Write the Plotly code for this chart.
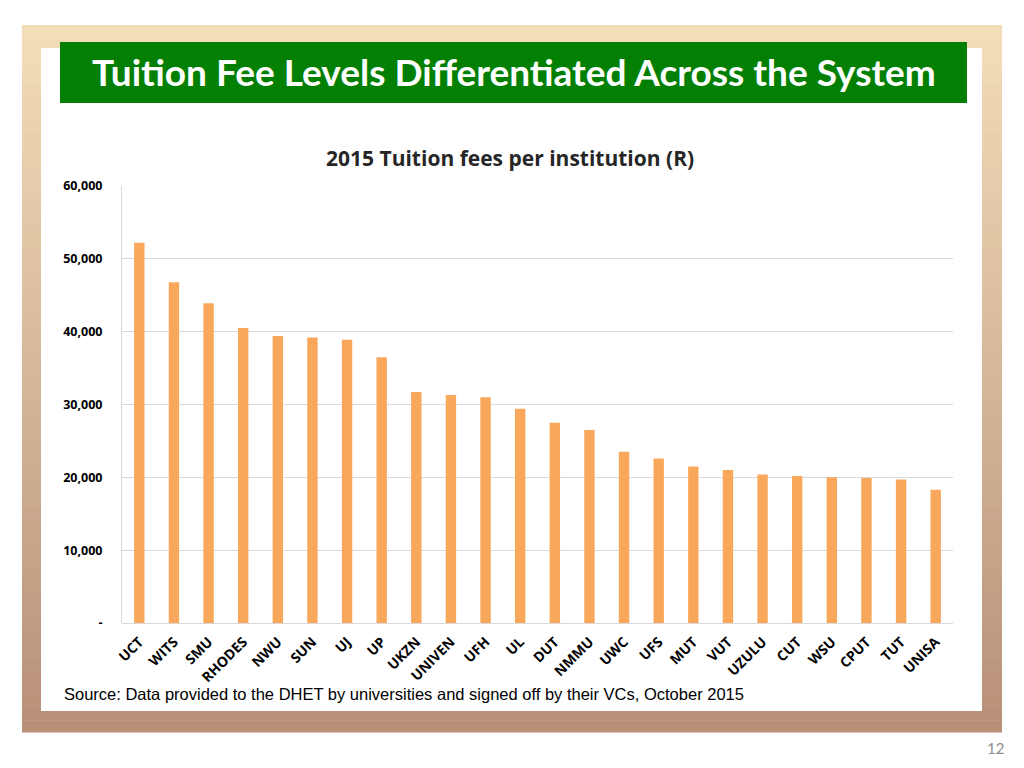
import plotly.graph_objects as go

# 2015 tuition fees per institution (Rand)
institutions = ["UCT", "WITS", "SMU", "RHODES", "NWU", "SUN", "UJ", "UP", "UKZN",
                "UNIVEN", "UFH", "UL", "DUT", "NMMU", "UWC", "UFS", "MUT", "VUT",
                "UZULU", "CUT", "WSU", "CPUT", "TUT", "UNISA"]
fees = [52200, 46800, 43900, 40500, 39400, 39200, 38900, 36500, 31700,
        31300, 31000, 29400, 27500, 26500, 23500, 22600, 21500, 21000,
        20400, 20200, 20000, 19900, 19700, 18300]

y_tickvals = [0, 10000, 20000, 30000, 40000, 50000, 60000]
y_ticktext = ["-", "10,000", "20,000", "30,000", "40,000", "50,000", "60,000"]

W, H = 1024, 768
OFF = 8  # page body margin pushes the figure 8px right/down


def px(x):
    return (x - OFF) / W


def py(y):
    return 1 - (y - OFF) / H


def mix(c1, c2, t):
    return "rgb(%d,%d,%d)" % tuple(round(a + (b - a) * t) for a, b in zip(c1, c2))


shapes = []
# slide frame: tan at top fading to brown at the bottom
top_col, bot_col = (243, 221, 184), (184, 144, 120)
y0, y1, n = 25, 732, 60
step = (y1 - y0) / n
for i in range(n):
    shapes.append(dict(type="rect", xref="paper", yref="paper", layer="below",
                       x0=px(22), x1=px(1002), y0=py(y0 + i * step), y1=py(y0 + (i + 1) * step + 0.6),
                       line=dict(width=0), fillcolor=mix(top_col, bot_col, i / (n - 1))))
# white inner panel
shapes.append(dict(type="rect", xref="paper", yref="paper", layer="below",
                   x0=px(41), x1=px(982), y0=py(48), y1=py(711),
                   line=dict(width=0), fillcolor="white"))
# green title banner
shapes.append(dict(type="rect", xref="paper", yref="paper", layer="below",
                   x0=px(60), x1=px(967), y0=py(42), y1=py(103),
                   line=dict(width=0), fillcolor="#037f03"))

fig = go.Figure(go.Bar(x=institutions, y=fees, marker_color="#f9a75b",
                       marker_line_width=0, hoverinfo="x+y"))

fig.update_layout(
    width=W, height=H,
    margin=dict(l=0, r=0, t=0, b=0, pad=0, autoexpand=False),
    paper_bgcolor="white", plot_bgcolor="rgba(0,0,0,0)",
    showlegend=False, bargap=0.7,
    shapes=shapes,
    xaxis=dict(domain=[px(122), px(953)], tickangle=-45, automargin=False,
               tickfont=dict(family="Open Sans", size=14, color="black", weight="bold"),
               showline=False, showgrid=False, ticks="", ticklabelstandoff=7),
    yaxis=dict(domain=[py(623), py(186)], range=[0, 60000], automargin=False,
               tickvals=y_tickvals, ticktext=y_ticktext,
               tickfont=dict(family="Open Sans", size=12.5, color="black", weight="bold"),
               showgrid=True, gridcolor="#d9d9d9", gridwidth=1,
               showline=True, linecolor="#d9d9d9", linewidth=1,
               zeroline=True, zerolinecolor="#d9d9d9", zerolinewidth=1,
               ticks="", ticklabelstandoff=16),
    annotations=[
        dict(text="Tuition Fee Levels Differentiated Across the System",
             xref="paper", yref="paper", x=px(514), y=py(71), yanchor="middle", showarrow=False,
             font=dict(family="Lato", size=37, color="white", weight="bold")),
        dict(text="2015 Tuition fees per institution (R)",
             xref="paper", yref="paper", x=px(510), y=py(158), yanchor="middle", showarrow=False,
             font=dict(family="Open Sans", size=21, color="#262626", weight="bold")),
        dict(text="Source: Data provided to the DHET by universities and signed off by their VCs, October 2015",
             xref="paper", yref="paper", x=px(62), y=py(694), xanchor="left", yanchor="middle",
             showarrow=False, font=dict(family="Liberation Sans", size=16.5, color="black")),
        dict(text="12", xref="paper", yref="paper", x=px(1006), y=py(748), yanchor="middle",
             showarrow=False, font=dict(family="Lato", size=15, color="#8c8c8c")),
    ],
)

fig.write_html("out.html")
